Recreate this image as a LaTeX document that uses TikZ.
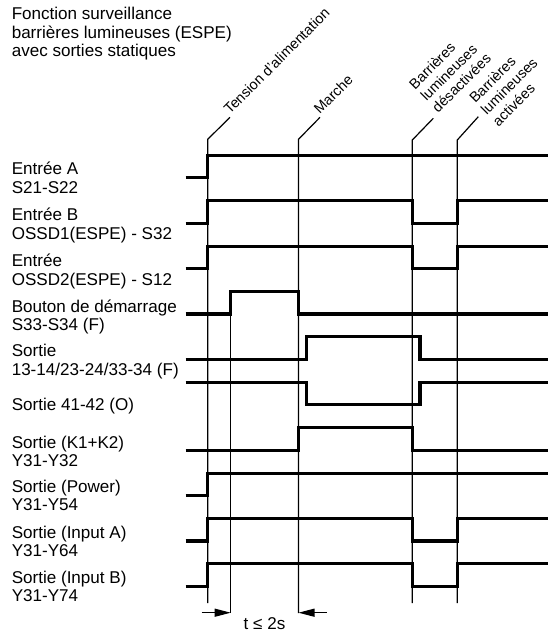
\documentclass[tikz,border=0pt]{standalone}
\usepackage{fontspec}
\setmainfont{Liberation Sans}
\usetikzlibrary{positioning,arrows.meta}

\begin{document}
\begin{tikzpicture}[
  x=0.75pt, y=-0.75pt,
  rowlabel/.style={anchor=base west, align=left, inner sep=1.5pt,
    font=\fontsize{12.8}{14}\selectfont},
  event/.style={rotate=45, align=left, inner sep=1pt,
    font=\fontsize{10.8}{12.3}\selectfont},
  sigline/.style={line width=2.3pt},
  timeline/.style={line width=0.9pt},
  dimarrow/.style={line width=0.9pt, -{Triangle[length=12pt, width=6pt]}}
]
  \useasboundingbox (0,0) rectangle (548,632);

  \node[rowlabel] (title) at (9.5,56.7)
        {Fonction surveillance\\barrières lumineuses (ESPE)\\avec sorties statiques};

  \node[rowlabel] (inA)  at (9.5,193.3) {Entrée A\\S21-S22};
  \node[rowlabel] (inB)  at (9.5,239)   {Entrée B\\OSSD1(ESPE) - S32};
  \node[rowlabel] (inC)  at (9.5,285)   {Entrée\\OSSD2(ESPE) - S12};
  \node[rowlabel] (btn)  at (9.5,330.7) {Bouton de démarrage\\S33-S34 (F)};
  \node[rowlabel] (outF) at (9.5,375)   {Sortie\\13-14/23-24/33-34 (F)};
  \node[rowlabel] (outO) at (9.5,410)   {Sortie 41-42 (O)};
  \node[rowlabel] (outK) at (9.5,466.7) {Sortie (K1+K2)\\Y31-Y32};
  \node[rowlabel] (outP) at (9.5,510.7) {Sortie (Power)\\Y31-Y54};
  \node[rowlabel] (outA) at (9.5,556.7) {Sortie (Input A)\\Y31-Y64};
  \node[rowlabel] (outB) at (9.5,601.7) {Sortie (Input B)\\Y31-Y74};

  \node[event, anchor=south west] (power)   at (230,117.3)   {Tension d'alimentation};
  \node[event, anchor=south west] (start)   at (320,117.3)   {Marche};
  \node[event, anchor=base west, inner xsep=5pt] (beamoff) at (433.3,118.3)
        {Barrières\\lumineuses\\désactivées};
  \node[event, anchor=west, inner xsep=5pt] (beamon) at (478.3,116.7)
        {Barrières\\lumineuses\\activées};

  % event markers
  \draw[timeline] (207.7,603) -- (207.7,139.3) -- (power.south west);
  \draw[timeline] (298.5,613) -- (298.5,139.3) -- (start.south west);
  \draw[timeline] (412.3,603) -- (412.3,140) -- (beamoff.base west);
  \draw[timeline] (457.3,603) -- (457.3,140) -- (beamon.west);
  \draw[timeline] (230.7,291.5) -- (230.7,613);

  % signals
  \draw[sigline] (185.5,177.8) -| (207.7,155.3) -- (548,155.3);
  \draw[sigline] (185.5,223.2) -| (207.7,200.7) -| (412.3,223.2) -| (457.3,200.7) -- (548,200.7);
  \draw[sigline] (185.5,268.6) -| (207.7,246.1) -| (412.3,268.6) -| (457.3,246.1) -- (548,246.1);
  \draw[sigline] (185.5,314) -| (230.7,291.5) -| (298.5,314) -- (548,314);
  \draw[sigline] (185.5,359.4) -| (306.3,336.9) -| (420,359.4) -- (548,359.4);
  \draw[sigline] (185.5,382.3) -| (306.3,404.8) -| (420,382.3) -- (548,382.3);
  \draw[sigline] (185.5,450.2) -| (298.5,427.7) -| (412.3,450.2) -- (548,450.2);
  \draw[sigline] (185.5,495.6) -| (207.7,473.1) -- (548,473.1);
  \draw[sigline] (185.5,541) -| (207.7,518.5) -| (412.3,541) -| (457.3,518.5) -- (548,518.5);
  \draw[sigline] (185.5,586.4) -| (207.7,563.9) -| (412.3,586.4) -| (457.3,563.9) -- (548,563.9);

  % start delay
  \coordinate (dimL) at (201.7,612.7);
  \coordinate (dimR) at (326.7,612.7);
  \draw[dimarrow] (dimL) -- (230.7,612.7);
  \draw[dimarrow] (dimR) -- (298.5,612.7);
  \node[anchor=base, inner sep=0pt, font=\fontsize{12.8}{14}\selectfont] (tmax)
        at (264.5,629) {t ≤ 2s};
\end{tikzpicture}
\end{document}
